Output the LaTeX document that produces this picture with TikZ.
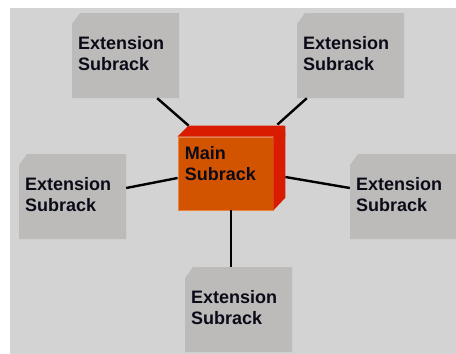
\documentclass[tikz,border=0pt]{standalone}
\usepackage{fontspec}
\setmainfont{Liberation Sans}
\definecolor{panel}{HTML}{D3D3D3}
\definecolor{extgray}{HTML}{BDBBBA}
\definecolor{mainfront}{HTML}{D35400}
\definecolor{mainedge}{HTML}{E8843E}
\definecolor{mainside}{HTML}{D91C00}
\definecolor{labelink}{HTML}{0B0B18}
\tikzset{
  labelfont/.style={font=\fontsize{18}{21}\selectfont\bfseries, text=labelink},
  % grey box with its top-left corner cut off
  extbox/.style={rectangle, draw=none, inner xsep=6pt, inner ysep=0pt,
    text width=95pt, text depth=26pt, minimum height=85pt, align=left, labelfont,
    path picture={
      \fill[extgray] ([shift={(0,11)}]path picture bounding box.north west)
        -- ([shift={(8,0)}]path picture bounding box.north west)
        -- (path picture bounding box.north east)
        -- (path picture bounding box.south east)
        -- (path picture bounding box.south west) -- cycle;
    }},
  link/.style={draw=black, line width=2.4pt},
}
\begin{document}
\begin{tikzpicture}[x=1pt, y=-1pt]
  \useasboundingbox (0,0) rectangle (456,354);
  % grey panel
  \fill[panel] (10,8) rectangle (460,358);

  % extension subracks
  \node[extbox] (tl) at (125.5,55.5) {Extension\\Subrack};
  \node[extbox] (tr) at (350.5,55.5) {Extension\\Subrack};
  \node[extbox] (lf) at (72.5,196.5) {Extension\\Subrack};
  \node[extbox] (rt) at (403.5,196.5) {Extension\\Subrack};
  \node[extbox] (bt) at (238.5,309.5) {Extension\\Subrack};

  % main subrack: front face plus top and right faces
  \node[rectangle, fill=mainfront, draw=mainedge, line width=0.8pt,
        minimum width=95pt, minimum height=73pt, inner sep=0pt] (main) at (225.5,173.5) {};
  \fill[mainside] (main.north west) -- ++(11,-11) -- ++(96,0) -- ([shift={(12,0)}]main.north east) -- cycle;
  \fill[mainside] (main.north east) -- ++(12,-11) -- ++(0,72) -- (main.south east) -- cycle;
  \node[labelfont, anchor=north west, inner sep=0pt, align=left]
       (mainlbl) at ([shift={(7,10)}]main.north west) {Main\\Subrack};

  % connection points
  \coordinate (mtl) at ([shift={(11,-11)}]main.north west);
  \coordinate (mtr) at ([shift={(4,-12)}]main.north east);
  \coordinate (mlf) at ([shift={(0,4.5)}]main.west);
  \coordinate (mrt) at ([shift={(12,3.5)}]main.east);
  \coordinate (mbt) at ([shift={(5.5,0)}]main.south);

  % connectors
  \path[link] ([shift={(-22,0)}]tl.south east) -- (mtl);
  \path[link] ([shift={(10,0)}]tr.south west) -- (mtr);
  \path[link] ([shift={(0,-8.5)}]lf.east) -- (mlf);
  \path[link] (mrt) -- ([shift={(0,-8.5)}]rt.west);
  \path[link] (mbt) -- (mbt |- bt.north);
\end{tikzpicture}
\end{document}
